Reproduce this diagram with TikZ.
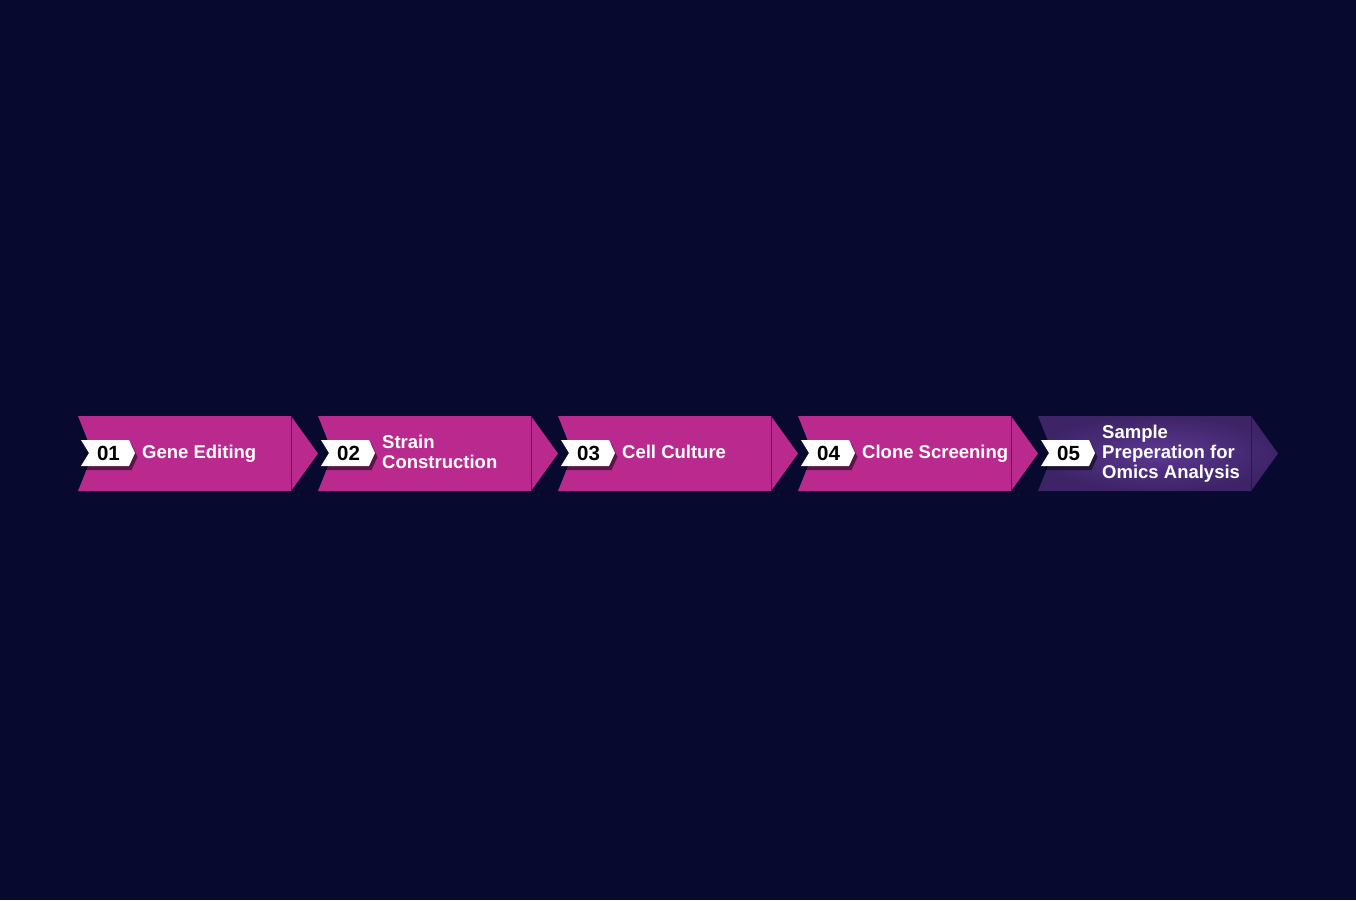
\documentclass[tikz,border=0pt]{standalone}
\usepackage{fontspec}
\setmainfont{Liberation Sans}
\usetikzlibrary{shadows}
\definecolor{bg}{HTML}{070A2E}
\definecolor{mag}{HTML}{BA2A8E}
\definecolor{magline}{HTML}{5A1448}
\definecolor{purlight}{HTML}{5C3891}
\definecolor{purdark}{HTML}{3D2467}
\definecolor{purline}{HTML}{2A1748}
\newcommand\sln[1]{\strut#1}
\tikzset{
  steptext/.style={anchor=west, text=white, font=\bfseries\fontsize{18.5}{20}\selectfont, align=left, inner sep=0pt},
  numtext/.style={text=black, font=\bfseries\fontsize{20.5}{20}\selectfont, inner sep=0pt},
  tag/.style={fill=white, drop shadow={shadow xshift=2.5pt, shadow yshift=-4pt, opacity=0.5, fill=black}},
  sepline/.style={line width=1pt},
}
\begin{document}
\begin{tikzpicture}[x=1pt,y=-1pt]
\fill[bg] (0,0) rectangle (1356,900);
\useasboundingbox (0,0) rectangle (1356,900);
% chevrons 1-4
\foreach \x in {78,318,558,798}{
  \fill[mag] (\x,416) -- (\x+213,416) -- (\x+240,453.5) -- (\x+213,491) -- (\x,491) -- (\x+15,453.5) -- cycle;
  \draw[magline, sepline] (\x+213,416) -- (\x+213,491);
}
% chevron 5
\shade[inner color=purlight, outer color=purdark] (1038,416) -- (1251,416) -- (1278,453.5) -- (1251,491) -- (1038,491) -- (1053,453.5) -- cycle;
\draw[purline, sepline] (1251,416) -- (1251,491);
% tags
\foreach \i/\x in {1/78,2/318,3/558,4/798,5/1038}{
  \path[tag] (\x+3,440) -- (\x+51,440) -- (\x+57,453) -- (\x+51,466) -- (\x+3,466) -- (\x+11,453) -- cycle;
  \node[numtext] (n\i) at (\x+30.5,453.5) {0\i};
}
\node[steptext] (t1) at (142,454.6) {\sln{Gene Editing}};
\node[steptext] (t2) at (382,454.6) {\sln{Strain}\\\sln{Construction}};
\node[steptext] (t3) at (622,454.6) {\sln{Cell Culture}};
\node[steptext] (t4) at (862,454.6) {\sln{Clone Screening}};
\node[steptext] (t5) at (1102,454.6) {\sln{Sample}\\\sln{Preperation for}\\\sln{Omics Analysis}};
\end{tikzpicture}
\end{document}
